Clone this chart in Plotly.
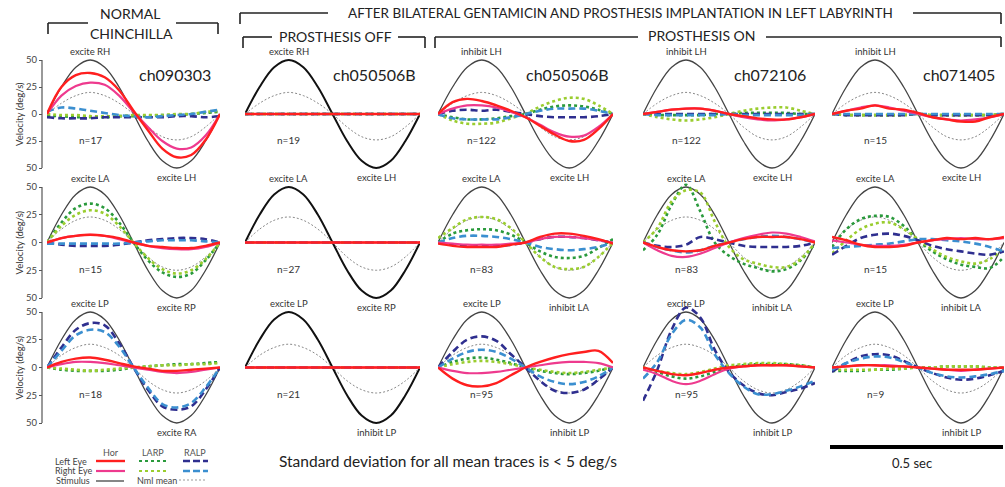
import plotly.graph_objects as go

W, H = 1005, 487
FONT = "Lato, 'Open Sans', sans-serif"

# ---------------- data (deg/s, sampled every 30 deg of one 2 Hz cycle) ----------------
T = [0.0, 0.0417, 0.0833, 0.125, 0.1667, 0.2083, 0.25, 0.2917, 0.3333, 0.375, 0.4167, 0.4583, 0.5]
STIM = [0, 25, 43.3, 50, 43.3, 25, 0, -25, -43.3, -50, -43.3, -25, 0]
NML_ROW1 = [0, 10, 17, 20, 17, 10, 0, -12, -21, -24, -21, -12, 0]
NML_ROW2 = [0, 12, 20, 23, 20, 12, 0, -13, -22, -25, -22, -13, 0]
NML_ROW3 = [0, 11, 18, 21, 18, 11, 0, -12, -20, -23, -20, -12, 0]
FLAT = [0, 0, 0, 0, 0, 0, 0, 0, 0, 0, 0, 0, 0]

# keys: lhor (Left Eye Hor), rhor (Right Eye Hor), llarp, rlarp, lralp, rralp
R1C1 = dict(lhor=[0, 25, 36, 38, 34, 22, 3, -15, -32, -40, -38, -24, 0],
            rhor=[0, 17, 26, 29, 27, 17, 2, -12, -25, -32, -31, -20, 0],
            llarp=[-2, -2, -3, -3, -3, -2, -2, -2, -1, -1, 0, 1, 2],
            rlarp=[0, -1, -1, -2, -2, -2, -1, -1, -1, 0, 0, 2, 3],
            lralp=[-3, -4, -4, -4, -3, -3, -3, -3, -3, -2, -2, -3, -2],
            rralp=[2, 6, 5, 3, 1, -1, -2, -3, -2, -1, 0, 2, 4])
R1C2 = dict(lhor=FLAT, rhor=FLAT, llarp=FLAT, rlarp=FLAT, lralp=FLAT, rralp=FLAT)
R1C3 = dict(lhor=[0, 11, 14, 12, 8, 3, -3, -11, -19, -25, -24, -14, 0],
            rhor=[0, 5, 8, 8, 6, 2, -3, -10, -17, -21, -20, -12, 0],
            llarp=[0, -3, -5, -5, -4, -2, 0, 4, 7, 8, 7, 4, 0],
            rlarp=[0, -6, -9, -9, -8, -4, 0, 7, 12, 15, 14, 8, 0],
            lralp=[0, 3, 4, 3, 4, 2, 0, -2, -3, -3, -3, -2, 0],
            rralp=[0, -4, -5, -5, -5, -3, 0, 3, 5, 5, 5, 3, 0])
R1C4 = dict(lhor=[0, 2, 4, 5, 5, 3, 0, -2, -4, -5, -5, -3, 0],
            rhor=[0, 2, 4, 5, 5, 3, 0, -3, -5, -6, -5, -3, 0],
            llarp=[0, -1, -1, -1, -1, 0, 0, 1, 1, 1, 1, 0, 0],
            rlarp=[0, -3, -5, -6, -5, -3, 0, 3, 5, 6, 6, 3, 0],
            lralp=[0, 0, 0, 0, 0, 0, 0, 0, 0, 0, 0, 0, 0],
            rralp=[0, -1, -1, -1, -1, -1, 0, -1, -1, -1, -1, -1, 0])
R1C5 = dict(lhor=[0, 3, 5, 8, 5, 4, 1, -3, -5, -7, -7, -3, 0],
            rhor=[0, 3, 6, 8, 6, 3, 0, -3, -5, -6, -5, -3, 0],
            llarp=[0, -1, -1, -1, -1, -1, 0, -1, -1, -1, -1, -1, 0],
            rlarp=[0, -1, -1, -1, -1, -1, 0, -1, -1, -1, -1, -1, 0],
            lralp=[0, -1, -1, -1, -1, -1, 0, -1, -1, -1, -1, -1, 0],
            rralp=[0, 0, 0, 0, 0, 0, 0, 0, 0, 0, 0, 0, 0])
R2C1 = dict(lhor=[0, 4, 6, 7, 6, 4, 0, -3, -4, -5, -5, -3, 0],
            rhor=[0, 4, 6, 7, 6, 3, 0, -3, -5, -6, -6, -4, 0],
            llarp=[0, 18, 31, 35, 31, 18, 0, -16, -27, -31, -28, -16, 0],
            rlarp=[0, 15, 25, 29, 26, 15, 0, -14, -24, -28, -25, -15, 0],
            lralp=[0, -2, -3, -3, -3, -2, 0, 2, 3, 4, 4, 3, 0],
            rralp=[-1, -1, -1, -1, -1, -1, 0, 1, 2, 2, 2, 1, 0])
R2C2 = dict(lhor=FLAT, rhor=FLAT, llarp=FLAT, rlarp=FLAT, lralp=FLAT, rralp=FLAT)
R2C3 = dict(lhor=[-1, -3, -4, -4, -4, -2, 0, 5, 8, 8, 6, 3, -1],
            rhor=[0, -1, -2, -2, -2, -1, 0, 3, 5, 5, 4, 2, 0],
            llarp=[0, 8, 11, 12, 11, 7, 0, -8, -13, -14, -12, -5, 3],
            rlarp=[4, 13, 21, 23, 21, 13, 0, -13, -22, -24, -22, -13, 0],
            lralp=[0, -2, -3, -3, -3, -2, 0, 3, 5, 5, 4, 2, 0],
            rralp=[0, 4, 6, 6, 5, 3, 0, -4, -6, -7, -6, -4, 0])
R2C4 = dict(lhor=[0, -4, -7, -8, -7, -3, 0, 3, 5, 5, 5, 3, 0],
            rhor=[0, -7, -12, -13, -10, -5, 0, 4, 7, 9, 8, 5, 1],
            llarp=[-7, 7, 34, 52, 28, 0, -12, -19, -23, -26, -24, -16, -1],
            rlarp=[0, 13, 37, 47, 45, 19, -4, -15, -19, -22, -22, -15, 0],
            lralp=[0, -3, -4, -2, 5, 3, 0, -3, -4, -4, -4, -3, 0],
            rralp=[0, -4, -7, -9, -7, -3, 0, 3, 5, 6, 5, 3, 0])
R2C5 = dict(lhor=[5, 2, -2, -4, -4, -3, 0, 2, 4, 3, 4, 3, 5],
            rhor=[2, 0, -2, -3, -3, -2, 0, 2, 3, 4, 3, 3, 4],
            llarp=[-4, 12, 21, 24, 23, 15, 2, -8, -15, -20, -22, -23, -13],
            rlarp=[-10, 2, 12, 17, 18, 12, 3, -6, -13, -17, -19, -15, -5],
            lralp=[-11, -3, 4, 7, 8, 6, 2, -3, -6, -8, -10, -11, -8],
            rralp=[-5, -4, -3, -2, -1, 1, 3, 3, 2, 1, -1, -4, -8])
R3C1 = dict(lhor=[0, 5, 8, 9, 7, 4, 1, -1, -3, -3, -2, -1, 0],
            rhor=[0, 3, 5, 5, 4, 2, 0, -2, -4, -5, -4, -2, 0],
            llarp=[0, -2, -3, -3, -3, -2, 0, 1, 2, 3, 3, 4, 5],
            rlarp=[0, -1, -2, -3, -2, -1, 0, 1, 2, 2, 3, 3, 4],
            lralp=[0, 18, 34, 40, 38, 22, 0, -20, -35, -38, -35, -20, 0],
            rralp=[0, 15, 29, 34, 32, 19, 0, -18, -33, -36, -32, -18, 0])
R3C2 = dict(lhor=FLAT, rhor=FLAT, llarp=FLAT, rlarp=FLAT, lralp=FLAT, rralp=FLAT)
R3C3 = dict(lhor=[0, -10, -16, -17, -14, -7, 0, 5, 9, 12, 14, 15, 4],
            rhor=[0, -3, -5, -5, -4, -2, 0, 2, 4, 5, 5, 4, 0],
            llarp=[0, 5, 8, 9, 7, 4, 0, -3, -5, -6, -5, -3, 0],
            rlarp=[0, 3, 5, 6, 5, 3, 0, -2, -4, -5, -4, -2, 0],
            lralp=[0, 14, 25, 28, 24, 12, 0, -12, -21, -23, -20, -11, 0],
            rralp=[0, 8, 14, 16, 14, 8, 0, -8, -13, -15, -13, -8, 0])
R3C4 = dict(lhor=[0, -3, -6, -7, -5, -2, 0, 1, 2, 2, 2, 1, 0],
            rhor=[-2, -6, -12, -15, -12, -6, -1, 1, 2, 2, 2, 1, 0],
            llarp=[0, -4, -8, -10, -8, -4, 0, 2, 3, 3, 3, 2, 0],
            rlarp=[0, -3, -5, -6, -4, -1, 2, 3, 4, 4, 3, 2, 0],
            lralp=[-30, -2, 34, 54, 45, 16, -4, -16, -23, -25, -22, -19, -14],
            rralp=[-10, 5, 30, 43, 36, 12, -5, -17, -24, -24, -21, -17, -12])
R3C5 = dict(lhor=[0, 1, 2, 2, 1, 1, 0, -1, -2, -2, -2, -1, 0],
            rhor=[0, 1, 2, 2, 2, 1, 0, -1, -2, -3, -2, -1, 0],
            llarp=[-3, -3, -3, -2, -2, -1, 0, 0, 1, 1, 1, 0, 0],
            rlarp=[-2, -2, -2, -2, -1, -1, 0, 0, 1, 1, 1, 0, 0],
            lralp=[-4, 4, 10, 12, 11, 6, 0, -5, -9, -11, -10, -7, -3],
            rralp=[-2, 4, 8, 10, 9, 5, 0, -5, -8, -9, -8, -6, -3])

PANELS = [[R1C1, R1C2, R1C3, R1C4, R1C5],
          [R2C1, R2C2, R2C3, R2C4, R2C5],
          [R3C1, R3C2, R3C3, R3C4, R3C5]]
NML = [NML_ROW1, NML_ROW2, NML_ROW3]

TOP_LABELS = [["excite RH", "excite RH", "inhibit LH", "inhibit LH", "inhibit LH"],
              ["excite LA", "excite LA", "excite LA", "excite LA", "excite LA"],
              ["excite LP", "excite LP", "excite LP", "excite LP", "excite LP"]]
BOTTOM_LABELS = [["excite LH", "excite LH", "excite LH", "excite LH", "excite LH"],
                 ["excite RP", "excite RP", "inhibit LA", "inhibit LA", "inhibit LA"],
                 ["excite RA", "inhibit LP", "inhibit LP", "inhibit LP", "inhibit LP"]]
N_LABELS = [["n=17", "n=19", "n=122", "n=122", "n=15"],
            ["n=15", "n=27", "n=83", "n=83", "n=15"],
            ["n=18", "n=21", "n=95", "n=95", "n=9"]]
CH_LABELS = ["ch090303", "ch050506B", "ch050506B", "ch072106", "ch071405"]
TICK_VALS = [-50, -25, 0, 25, 50]
TICK_TEXT = ["50", "25", "0", "25", "50"]

# ---------------- geometry (pixels) ----------------
COL_X = [(47, 220), (245, 420), (438, 613), (643, 815), (832, 1004)]
ROW_Y = [(60, 168), (187, 298), (312, 423)]   # pixel rows of +50 and -50
YR = 62

RED, PINK = "#ff1f1f", "#ee3a8e"
DKGREEN, LTGREEN = "#2a9a3c", "#9acd2f"
NAVY, LTBLUE = "#2f2f8f", "#3b8fd0"
STYLE = {
    "llarp": dict(color=DKGREEN, width=2.6, dash="dot"),
    "rlarp": dict(color=LTGREEN, width=2.6, dash="dot"),
    "lralp": dict(color=NAVY, width=2.6, dash="7px,4px"),
    "rralp": dict(color=LTBLUE, width=2.6, dash="7px,4px"),
    "rhor": dict(color=PINK, width=2.2),
    "lhor": dict(color=RED, width=2.4),
}
ORDER = ["llarp", "rlarp", "lralp", "rralp", "rhor", "lhor"]


def px(x):
    return x / W


def py(y):
    return 1 - y / H


fig = go.Figure()
layout = dict(width=W, height=H, margin=dict(l=0, r=0, t=0, b=0),
              paper_bgcolor="white", plot_bgcolor="white", showlegend=False,
              font=dict(family=FONT, color="#333"))
shapes, annotations = [], []


def ann(text, x, y, size, xanchor="center", angle=0, color="#333"):
    annotations.append(dict(text=text, x=px(x), y=py(y), xref="paper", yref="paper",
                            showarrow=False, xanchor=xanchor, yanchor="middle",
                            textangle=angle, font=dict(size=size, color=color, family=FONT)))


def seg(x0, y0, x1, y1, width=1.6, color="#222", dash=None):
    ln = dict(color=color, width=width)
    if dash:
        ln["dash"] = dash
    shapes.append(dict(type="line", xref="paper", yref="paper",
                       x0=px(x0), y0=py(y0), x1=px(x1), y1=py(y1), line=ln))


for r in range(3):
    y50, ym50 = ROW_Y[r]
    s = (ym50 - y50) / 100.0
    top = y50 - (YR - 50) * s
    bot = ym50 + (YR - 50) * s
    yzero = (y50 + ym50) / 2
    for c in range(5):
        k = r * 5 + c + 1
        x0, x1 = COL_X[c]
        xa, ya = ("x" if k == 1 else f"x{k}"), ("y" if k == 1 else f"y{k}")
        xname, yname = ("xaxis" if k == 1 else f"xaxis{k}"), ("yaxis" if k == 1 else f"yaxis{k}")
        layout[xname] = dict(domain=[px(x0), px(x1)], range=[0, 0.5], visible=False, anchor=ya)
        ydict = dict(domain=[py(bot), py(top)], range=[-YR, YR], showgrid=False, zeroline=False)
        if c == 0:
            ydict.update(visible=True, anchor="free", position=px(42), showline=False,
                         tickvals=TICK_VALS, ticktext=TICK_TEXT, ticks="outside", ticklen=3,
                         tickcolor="#555", tickfont=dict(size=9.5, color="#444", family=FONT))
            shapes.append(dict(type="line", xref="paper", yref=ya, x0=px(42), x1=px(42),
                               y0=-50, y1=50, line=dict(color="#555", width=1.2)))
            ann("Velocity (deg/s)", 19, yzero, 9.5, angle=-90)
        else:
            ydict.update(visible=False, anchor=xa)
        layout[yname] = ydict

        stim_line = dict(color="#111", width=2.0) if c == 1 else dict(color="#444", width=1.3)
        fig.add_trace(go.Scatter(x=T, y=STIM, mode="lines", line=dict(shape="spline", **stim_line),
                                 xaxis=xa, yaxis=ya, hoverinfo="skip"))
        fig.add_trace(go.Scatter(x=T, y=NML[r], mode="lines",
                                 line=dict(shape="spline", color="#888", width=1, dash="2px,2px"),
                                 xaxis=xa, yaxis=ya, hoverinfo="skip"))
        pdata = PANELS[r][c]
        for key in ORDER:
            fig.add_trace(go.Scatter(x=T, y=pdata[key], mode="lines",
                                     line=dict(shape="spline", **STYLE[key]),
                                     xaxis=xa, yaxis=ya, hoverinfo="skip"))

        w = x1 - x0
        ann(TOP_LABELS[r][c], x0 + 0.25 * w, y50 - 9, 9.5)
        ann(BOTTOM_LABELS[r][c], x0 + 0.75 * w, ym50 + 9, 9.5)
        ann(N_LABELS[r][c], x0 + 0.25 * w, yzero + 26, 10)
        if r == 0:
            ann(CH_LABELS[c], x0 + 0.74 * w, yzero - 40, 16, color="#222")

# ---------------- headers & brackets ----------------
ann("NORMAL", 130, 14, 14, color="#222")
ann("CHINCHILLA", 131, 33, 14, color="#222")
seg(48, 34, 48, 23); seg(48, 23, 88, 23)
seg(176, 23, 218, 23); seg(218, 23, 218, 34)

ann("AFTER BILATERAL GENTAMICIN AND PROSTHESIS IMPLANTATION IN LEFT LABYRINTH", 620, 13, 13.5, color="#222")
seg(240, 24, 240, 13); seg(240, 13, 328, 13)
seg(913, 13, 1001, 13); seg(1001, 13, 1001, 24)

ann("PROSTHESIS OFF", 335, 37, 14, color="#222")
seg(243, 48, 243, 37); seg(243, 37, 272, 37)
seg(398, 37, 425, 37); seg(425, 37, 425, 48)

ann("PROSTHESIS ON", 702, 36, 14, color="#222")
seg(435, 48, 435, 37); seg(435, 37, 638, 37)
seg(766, 37, 1001, 37); seg(1001, 37, 1001, 47)

# ---------------- legend ----------------
ann("Hor", 111, 452, 9, color="#555")
ann("LARP", 153, 452, 9, color="#555")
ann("RALP", 195, 452, 9, color="#555")
ann("Left Eye", 89, 461, 9, xanchor="right", color="#444")
ann("Right Eye", 94, 470, 9, xanchor="right", color="#444")
ann("Stimulus", 92, 480, 9, xanchor="right", color="#444")
ann("Nml mean", 157, 480, 9, color="#444")
seg(96, 461, 125, 461, 2.4, RED)
seg(96, 471, 125, 471, 2.2, PINK)
seg(96, 481, 124, 481, 1.3, "#444")
seg(139, 461, 167, 461, 2.2, DKGREEN, "dot")
seg(139, 471, 167, 471, 2.2, LTGREEN, "dot")
seg(183, 461, 208, 461, 2.4, NAVY, "7px,3px")
seg(183, 471, 208, 471, 2.4, LTBLUE, "7px,3px")
seg(179, 480, 207, 480, 1, "#999", "2px,2px")

ann("Standard deviation for all mean traces is < 5 deg/s", 448, 461, 15.5, color="#222")

# scale bar
seg(830, 447, 1003, 447, 4, "#000")
ann("0.5 sec", 912, 463, 13, color="#222")

layout["shapes"] = shapes
layout["annotations"] = annotations
fig.update_layout(**layout)
fig.write_html("out.html", config={"displayModeBar": False},
               post_script="document.body.style.margin='0px';document.body.style.overflow='hidden';")
